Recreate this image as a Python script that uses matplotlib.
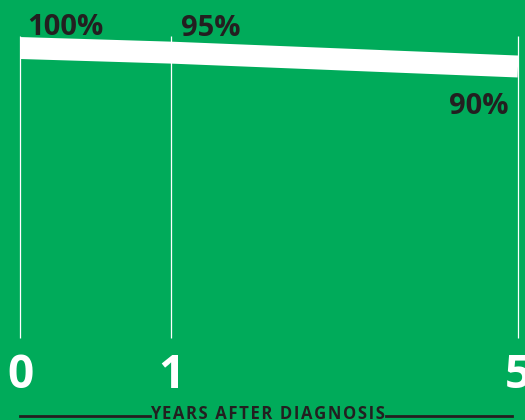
import numpy as np
import matplotlib
matplotlib.use("Agg")
import matplotlib.pyplot as plt
from matplotlib.lines import Line2D

# survival after diagnosis
years = [0, 1, 5]
survival = [100, 95, 90]
year_labels = ["0", "1", "5"]
value_labels = ["100%", "95%", "90%"]
xlabel = "YEARS AFTER DIAGNOSIS"

green = "#00AB5A"
dark = "#231F20"
font = "Open Sans"

fig = plt.figure(figsize=(5.25, 4.2), dpi=100, facecolor=green)
W, H = 525, 420
ax = fig.add_axes([20 / W, (H - 338) / H, 498 / W, 302 / H])
ax.set_facecolor(green)

# stretched time axis: year 1 sits far from 0, year 5 at the end
fx = lambda x: np.sign(x) * np.abs(x) ** 0.74
ix = lambda x: np.sign(x) * np.abs(x) ** (1 / 0.74)
ax.set_xscale("function", functions=(fx, ix))
# drop from 100% grows quadratically on screen
top = survival[0]
fy = lambda v: -np.sign(top - v) * (top - v) ** 2
iy = lambda u: top + np.sign(-u) * -np.sqrt(np.abs(u))
ax.set_yscale("function", functions=(fy, iy))
ax.set_xlim(0, 5)
ylo, yhi = 60.4, 108.06
ax.set_ylim(ylo, yhi)

ax.vlines(years, ylo, yhi, color="white", lw=0.9, clip_on=False, zorder=1)
ax.plot(years, survival, color="white", lw=15.8, solid_capstyle="butt",
        solid_joinstyle="miter", zorder=2)

# percentage labels (offsets in pixels)
offsets = [(7, 13, "left"), (10, 17, "left"), (-9, -47.5, "right")]
for x, y, lab, (dx, dy, ha) in zip(years, survival, value_labels, offsets):
    ax.annotate(lab, (x, y), xytext=(dx, dy), textcoords="offset pixels",
                ha=ha, va="baseline", fontsize=21, fontweight="bold",
                color=dark, family=font)

ax.set_xticks(years)
ax.set_xticklabels(year_labels, fontsize=33, fontweight="bold",
                   color="white", family=font)
ax.tick_params(axis="x", length=0, pad=10)
ax.set_yticks([])
ax.minorticks_off()
for s in ax.spines.values():
    s.set_visible(False)

# bottom caption with rules on both sides
spaced = "\u200a".join(xlabel)
fig.text(268 / W, 1 / H, spaced, ha="center", va="baseline", fontsize=12,
         fontweight="bold", color=dark, family=font)
y_rule = (H - 415.5) / H
fig.add_artist(Line2D([20 / W, 150 / W], [y_rule, y_rule], color=dark, lw=2))
fig.add_artist(Line2D([386 / W, 512 / W], [y_rule, y_rule], color=dark, lw=2))

fig.savefig("out.png", dpi=100, facecolor=green)
